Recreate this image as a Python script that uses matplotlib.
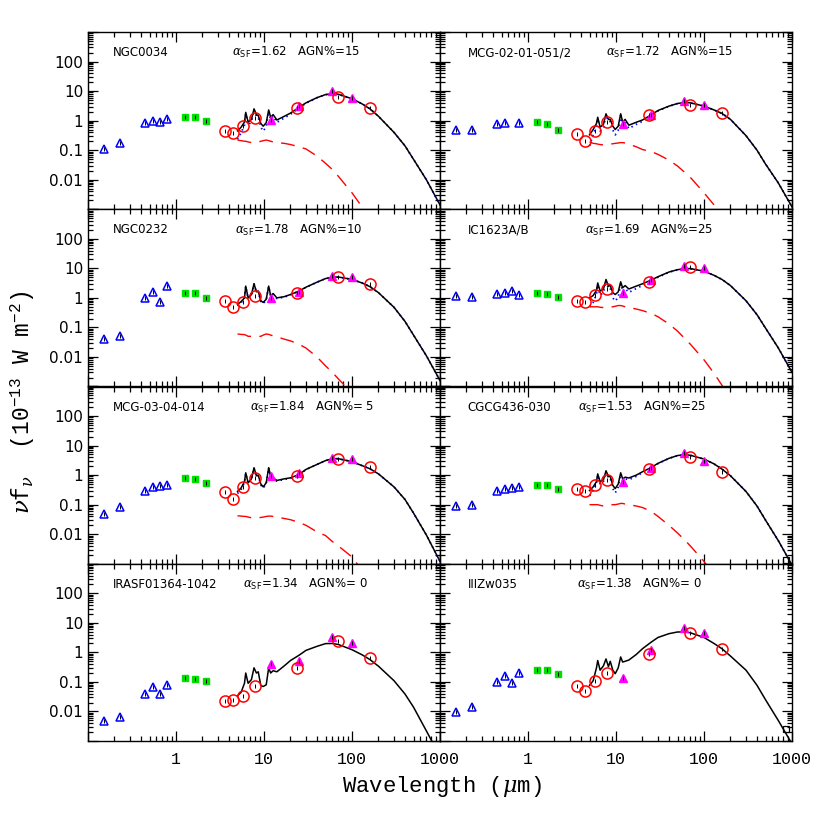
import numpy as np
import matplotlib
matplotlib.use("Agg")
import matplotlib.pyplot as plt
from matplotlib.ticker import FixedLocator, FuncFormatter, NullFormatter

plt.rcParams['font.family'] = ['DejaVu Sans']
plt.rcParams['mathtext.fontset'] = 'custom'
plt.rcParams['mathtext.rm'] = 'Liberation Mono'
plt.rcParams['mathtext.it'] = 'DejaVu Serif:italic'
plt.rcParams['mathtext.sf'] = 'DejaVu Sans'

nan = np.nan

# ---------------- data ----------------
names = ["NGC0034", "MCG-02-01-051/2", "NGC0232", "IC1623A/B",
         "MCG-03-04-014", "CGCG436-030", "IRASF01364-1042", "IIIZw035"]
alpha_sf = ["1.62", "1.72", "1.78", "1.69", "1.84", "1.53", "1.34", "1.38"]
agn_pct = ["15", "15", "10", "25", " 5", "25", " 0", " 0"]

uv_wl = [0.153, 0.231, 0.44, 0.55, 0.65, 0.80]          # blue open triangles
nir_wl = [1.25, 1.65, 2.17]                             # green squares
spitzer_wl = [3.6, 4.5, 5.8, 8.0, 24, 70, 160]          # red open circles
iras_wl = [12, 25, 60, 100]                             # magenta triangles
submm_wl = 850                                          # black open square

uv_flux = [
    [0.112, 0.18, 0.81, 1.0, 0.88, 1.11],
    [0.48, 0.48, 0.77, 0.86, nan, 0.83],
    [0.04, 0.05, 1.0, 1.6, 0.7, 2.5],
    [1.2, 1.1, 1.4, 1.5, 1.7, 1.3],
    [0.049, 0.081, 0.285, 0.40, 0.42, 0.47],
    [0.09, 0.10, 0.30, 0.35, 0.38, 0.40],
    [0.0046, 0.0067, 0.038, 0.066, 0.040, 0.081],
    [0.0098, 0.0146, 0.103, 0.16, 0.095, 0.20],
]
nir_flux = [
    [1.34, 1.28, 0.97],
    [0.90, 0.74, 0.48],
    [1.5, 1.5, 1.0],
    [1.5, 1.4, 1.1],
    [0.81, 0.75, 0.53],
    [0.45, 0.45, 0.35],
    [0.14, 0.126, 0.105],
    [0.26, 0.26, 0.19],
]
spitzer_flux = [
    [0.43, 0.37, 0.66, 1.23, 2.72, 6.3, 2.65],
    [0.35, 0.20, 0.44, 0.93, 1.5, 3.4, 1.8],
    [0.8, 0.5, 0.7, 1.2, 1.5, 5.0, 3.0],
    [0.8, 0.7, 1.3, 2.0, 3.5, 11.0, nan],
    [0.26, 0.15, 0.39, 0.81, 0.92, 3.4, 1.87],
    [0.35, 0.28, 0.45, 0.7, 1.6, 4.0, 1.3],
    [0.023, 0.025, 0.034, 0.073, 0.29, 2.5, 0.66],
    [0.070, 0.051, 0.11, 0.20, 0.90, 4.6, 1.33],
]
iras_flux = [
    [1.05, 3.1, 10.1, 5.8],
    [0.77, 1.6, 4.5, 3.3],
    [1.0, 1.6, 5.5, 5.0],
    [1.5, 4.0, 12.0, 10.0],
    [0.92, 1.14, 3.9, 3.4],
    [0.6, 1.7, 5.5, 3.0],
    [0.39, 0.53, 3.3, 2.1],
    [0.14, 1.2, 6.6, 4.6],
]
submm_flux = [nan, nan, nan, nan, nan, 0.0013, nan, 0.0025]

model_wl = [5.0, 5.5, 6.0, 6.2, 6.6, 7.2, 7.7, 8.2, 8.6, 9.2, 9.8, 10.6, 11.3,
            11.9, 12.7, 14, 17, 20, 25, 30, 40, 50, 60, 70, 100, 130, 160,
            200, 300, 400, 500, 700, 1000]

model_total = [
    [0.45, 0.6, 0.9, 1.9, 0.9, 1.1, 2.5, 1.6, 1.5, 0.8, 0.65, 0.85, 2.3,
     1.3, 1.6, 1.05, 1.4, 1.8, 2.8, 4.0, 6.0, 7.6, 8.2, 7.8, 5.5, 3.7, 2.5,
     1.4, 0.4, 0.14, 0.049, 0.01, 0.0014],
    [0.33, 0.5, 0.8, 1.3, 0.6, 0.75, 1.7, 1.1, 1.1, 0.65, 0.5, 0.65, 1.7,
     0.9, 1.1, 0.7, 0.88, 1.05, 1.55, 2.2, 3.1, 3.8, 4.1, 4.0, 3.1, 2.3, 1.75,
     1.1, 0.31, 0.1, 0.034, 0.0077, 0.0012],
    [0.6, 0.75, 1.0, 2.5, 1.0, 1.3, 3.0, 1.6, 1.7, 0.8, 0.7, 0.9, 2.5,
     1.2, 1.4, 1.0, 1.1, 1.3, 1.7, 2.3, 3.4, 4.5, 5.0, 5.1, 4.2, 3.2, 2.4,
     1.5, 0.48, 0.16, 0.055, 0.011, 0.0016],
    [1.0, 1.2, 1.8, 3.2, 1.7, 2.0, 4.2, 2.5, 2.6, 1.5, 1.3, 1.6, 3.5,
     2.2, 2.6, 2.0, 2.5, 3.0, 4.0, 5.2, 7.5, 9.0, 9.8, 9.8, 8.0, 5.8, 4.2,
     2.6, 0.8, 0.27, 0.095, 0.02, 0.003],
    [0.28, 0.37, 0.6, 1.2, 0.55, 0.75, 1.78, 0.95, 1.0, 0.5, 0.4, 0.55, 1.78,
     0.95, 0.81, 0.66, 0.75, 0.81, 1.05, 1.56, 2.3, 3.1, 3.6, 3.6, 2.85, 2.1, 1.64,
     1.1, 0.4, 0.15, 0.052, 0.0094, 0.0012],
    [0.3, 0.4, 0.6, 1.1, 0.6, 0.7, 1.4, 0.9, 0.9, 0.45, 0.35, 0.5, 1.2,
     0.75, 0.85, 0.8, 1.0, 1.3, 1.8, 2.5, 3.7, 4.6, 4.9, 4.7, 3.5, 2.4, 1.6,
     0.95, 0.28, 0.09, 0.03, 0.006, 0.0009],
    [0.034, 0.045, 0.09, 0.2, 0.09, 0.12, 0.3, 0.2, 0.22, 0.075, 0.07, 0.08, 0.3,
     0.2, 0.24, 0.22, 0.35, 0.53, 0.8, 1.17, 1.6, 1.98, 2.0, 1.85, 1.23, 0.83, 0.57,
     0.34, 0.11, 0.039, 0.014, 0.0022, 0.0003],
    [0.076, 0.11, 0.3, 0.53, 0.25, 0.35, 0.6, 0.33, 0.5, 0.25, 0.19, 0.3, 0.7,
     0.47, 0.5, 0.55, 0.85, 1.33, 2.2, 3.2, 4.3, 4.9, 4.9, 4.6, 3.2, 2.0, 1.33,
     0.75, 0.25, 0.077, 0.025, 0.0049, 0.0008],
]

model_agn = [
    [0.22, 0.21, 0.2, 0.2, 0.19, 0.18, 0.18, 0.185, 0.19, 0.2, 0.21, 0.22, 0.21,
     0.2, 0.19, 0.18, 0.17, 0.155, 0.13, 0.11, 0.063, 0.036, 0.022, 0.013, 0.0036,
     0.0012, 0.0005, nan, nan, nan, nan, nan, nan],
    [0.19, 0.17, 0.165, 0.16, 0.155, 0.15, 0.15, 0.155, 0.16, 0.165, 0.17, 0.175, 0.18,
     0.18, 0.175, 0.16, 0.13, 0.105, 0.09, 0.072, 0.046, 0.029, 0.018, 0.012, 0.0036,
     0.0014, 0.0006, nan, nan, nan, nan, nan, nan],
    [0.06, 0.058, 0.057, 0.055, 0.05, 0.05, 0.05, 0.05, 0.05, 0.05, 0.055, 0.06, 0.058,
     0.055, 0.052, 0.048, 0.04, 0.035, 0.027, 0.02, 0.01, 0.005, 0.003, 0.0018, 0.0006,
     nan, nan, nan, nan, nan, nan, nan, nan],
    [0.5, 0.5, 0.5, 0.5, 0.48, 0.47, 0.46, 0.47, 0.48, 0.5, 0.52, 0.55, 0.55,
     0.53, 0.5, 0.47, 0.42, 0.37, 0.3, 0.23, 0.13, 0.075, 0.043, 0.027, 0.008,
     0.0028, 0.0011, 0.0004, nan, nan, nan, nan, nan],
    [0.042, 0.041, 0.04, 0.04, 0.038, 0.036, 0.035, 0.035, 0.036, 0.037, 0.038, 0.04, 0.041,
     0.041, 0.04, 0.038, 0.034, 0.031, 0.025, 0.02, 0.012, 0.009, 0.0056, 0.004, 0.0017,
     0.0006, nan, nan, nan, nan, nan, nan, nan],
    [0.1, 0.1, 0.1, 0.1, 0.095, 0.09, 0.09, 0.09, 0.095, 0.1, 0.1, 0.105, 0.11,
     0.11, 0.105, 0.1, 0.09, 0.08, 0.06, 0.04, 0.02, 0.011, 0.0065, 0.004, 0.0012,
     0.0004, nan, nan, nan, nan, nan, nan, nan],
    None,
    None,
]

# label x positions (axes fraction) of the alpha/AGN text
alpha_x = [0.409, 0.472, 0.418, 0.412, 0.46, 0.392, 0.44, 0.389]

# ---------------- figure ----------------
fig = plt.figure(figsize=(8.3, 8.3), dpi=100)
L, W = 88 / 830, 352 / 830
B, H = 89 / 830, 177.25 / 830

major = [10.0 ** k for k in range(-4, 5)]
minor = [m * 10.0 ** k for k in range(-4, 4) for m in range(2, 10)]

def xfmt(v, pos):
    lab = {1: "1", 10: "10", 100: "100", 1000: "1000"}
    return lab.get(int(round(v)) if v >= 1 else -1, "")

def yfmt(v, pos):
    for t, s in [(100, "100"), (10, "10"), (1, "1"), (0.1, "0.1"), (0.01, "0.01")]:
        if abs(np.log10(v) - np.log10(t)) < 1e-6:
            return s
    return ""

for i in range(8):
    r, c = divmod(i, 2)
    ax = fig.add_axes([L + c * W, B + (3 - r) * H, W, H])
    ax.set_xscale('log')
    ax.set_yscale('log')
    ax.set_xlim(0.1, 1000)
    ax.set_ylim(1e-3, 1e3)

    mw = np.array(model_wl)
    tot = np.array(model_total[i])
    if model_agn[i] is not None:
        agn = np.array(model_agn[i])
        sb = tot - np.nan_to_num(agn)
        ax.plot(mw, sb, color='blue', lw=1.3, ls=(0, (0.8, 2.0)), zorder=2)
        ax.plot(mw, agn, color='red', lw=1.0, ls=(0, (10, 6)), zorder=2)
    ax.plot(mw, tot, color='black', lw=1.1, zorder=3)

    ax.plot(uv_wl, uv_flux[i], ls='none', marker='^', ms=5.8, mfc='none',
            mec='blue', mew=1.1, zorder=4)
    ax.plot(nir_wl, nir_flux[i], ls='none', marker='s', ms=4.8, mfc='#00e000',
            mec='#00e000', zorder=4)
    ax.plot(iras_wl, iras_flux[i], ls='none', marker='^', ms=5.8, mfc='magenta',
            mec='magenta', mew=1.0, zorder=4)
    ax.plot(spitzer_wl, spitzer_flux[i], ls='none', marker='o', ms=8, mfc='none',
            mec='red', mew=1.1, zorder=5)
    if not np.isnan(submm_flux[i]):
        ax.plot([submm_wl], [submm_flux[i]], ls='none', marker='s', ms=5,
                mfc='none', mec='black', mew=0.9, zorder=5)
    # tiny error-bar ticks inside the symbols
    allw = uv_wl + nir_wl + iras_wl + spitzer_wl
    allf = uv_flux[i] + nir_flux[i] + iras_flux[i] + spitzer_flux[i]
    ax.plot(allw, allf, ls='none', marker='|', ms=3, mec='black', mew=0.7, zorder=6)

    ax.xaxis.set_major_locator(FixedLocator(major))
    ax.xaxis.set_minor_locator(FixedLocator(minor))
    ax.yaxis.set_major_locator(FixedLocator(major))
    ax.yaxis.set_minor_locator(FixedLocator(minor))
    ax.tick_params(which='both', direction='in', top=True, right=True, width=0.9)
    ax.tick_params(which='major', length=7)
    ax.tick_params(which='minor', length=3.5)
    if r == 3:
        ax.xaxis.set_major_formatter(FuncFormatter(xfmt))
        ax.tick_params(axis='x', pad=8)
        for lab in ax.get_xticklabels():
            lab.set_fontfamily('Liberation Mono')
            lab.set_fontsize(12)
    else:
        ax.xaxis.set_major_formatter(NullFormatter())
    ax.xaxis.set_minor_formatter(NullFormatter())
    if c == 0:
        ax.yaxis.set_major_formatter(FuncFormatter(yfmt))
        for lab in ax.get_yticklabels():
            lab.set_fontfamily('DejaVu Sans')
            lab.set_fontsize(11)
    else:
        ax.yaxis.set_major_formatter(NullFormatter())
    ax.yaxis.set_minor_formatter(NullFormatter())
    for s in ax.spines.values():
        s.set_linewidth(1.0)

    ax.text(0.072 if c == 0 else 0.079, 0.883, names[i], transform=ax.transAxes,
            fontsize=8.5, va='center', ha='left')
    ax.text(alpha_x[i], 0.883,
            r'$\alpha_{\mathsf{SF}}$=' + alpha_sf[i] + '   AGN%=' + agn_pct[i],
            transform=ax.transAxes, fontsize=8.5, va='center', ha='left')

fig.text(0.532, 0.052, r'Wavelength ($\mu$m)', ha='center', va='center',
         fontsize=16, family='Liberation Mono')
fig.text(0.027, 0.515, r'$\nu$f$_\nu$  (10$^{-13}$ W m$^{-2}$)', ha='center',
         va='center', rotation=90, fontsize=16.5, family='Liberation Mono')

fig.savefig("out.png", dpi=100)
